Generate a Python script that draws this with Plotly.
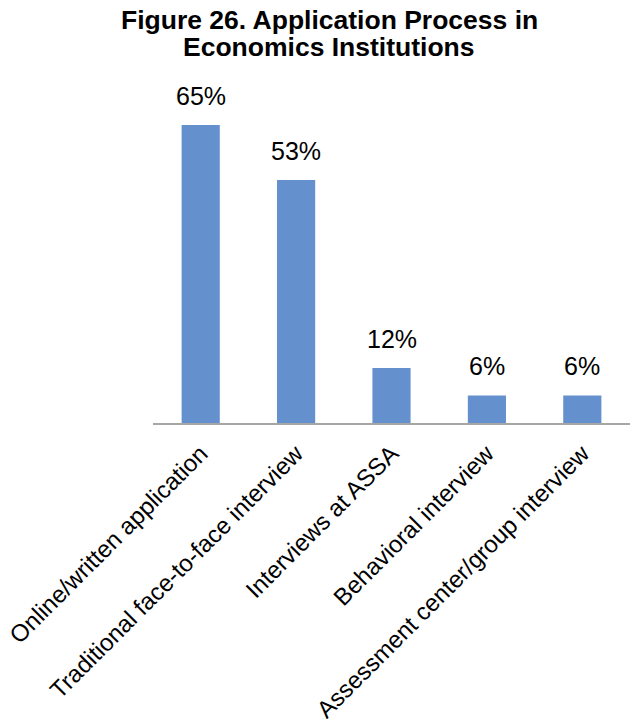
import plotly.graph_objects as go

categories = [
    "Online/written application",
    "Traditional face-to-face interview",
    "Interviews at ASSA",
    "Behavioral interview",
    "Assessment center/group interview",
]
values = [65, 53, 12, 6, 6]
value_labels = ["65%", "53%", "12%", "6%", "6%"]
title_lines = ["Figure 26. Application Process in", "Economics Institutions"]

font_family = "Liberation Sans, Arial, Helvetica, sans-serif"

# plot area geometry (pixels)
W, H = 630, 719
L, R, T, B = 153, 0, 70, 296
plot_w = W - L - R
plot_h = H - T - B


def px_to_paper_x(px):
    return (px - L) / plot_w


def px_to_paper_y(py):
    return (H - B - py) / plot_h


fig = go.Figure(
    go.Bar(
        x=categories,
        y=values,
        marker=dict(color="#6491CD", line=dict(width=0)),
        cliponaxis=False,
        hoverinfo="x+y",
    )
)

annotations = []
# value labels above each bar
for cat, val, lab in zip(categories, values, value_labels):
    annotations.append(
        dict(
            x=cat,
            y=val,
            xref="x",
            yref="y",
            text=lab,
            showarrow=False,
            yanchor="bottom",
            yshift=13,
            font=dict(size=25, family=font_family, color="#000000"),
        )
    )

# two-line bold title
for i, line in enumerate(title_lines):
    annotations.append(
        dict(
            x=px_to_paper_x(329),
            y=px_to_paper_y(20 + i * 27),
            xref="paper",
            yref="paper",
            text=f"<b>{line}</b>",
            showarrow=False,
            xanchor="center",
            yanchor="middle",
            borderpad=0,
            font=dict(size=26.5, family=font_family, color="#000000"),
        )
    )

fig.update_layout(
    width=W,
    height=H,
    margin=dict(l=L, r=R, t=T, b=B, autoexpand=False),
    paper_bgcolor="white",
    plot_bgcolor="white",
    bargap=0.6,
    showlegend=False,
    font=dict(family=font_family, color="#000000"),
    annotations=annotations,
)

fig.update_xaxes(
    tickangle=-45,
    tickfont=dict(size=24, family=font_family, color="#000000"),
    ticklabelstandoff=5,
    automargin=False,
    showline=True,
    linecolor="#A6A6A6",
    linewidth=2,
    ticks="",
    showgrid=False,
)
fig.update_yaxes(
    range=[0, 77],
    visible=False,
    showgrid=False,
    zeroline=False,
    automargin=False,
)

fig.write_html("out.html")
